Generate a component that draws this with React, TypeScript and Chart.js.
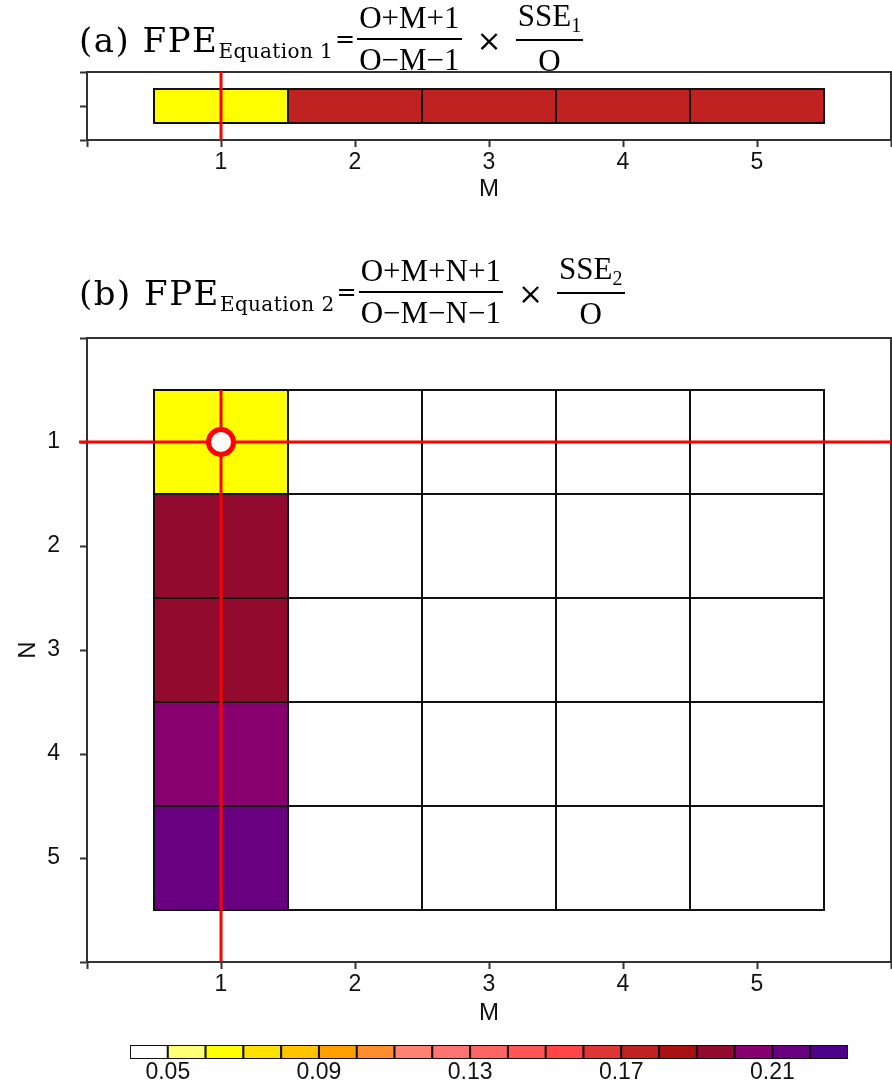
import React, { useEffect, useRef } from "react";
import { Chart, registerables } from "chart.js";

Chart.register(...registerables);

// ---------------- data ----------------
const M_VALUES = [1, 2, 3, 4, 5];
const N_VALUES = [1, 2, 3, 4, 5];
const AXIS_TICKS = [0, 1, 2, 3, 4, 5, 6];
const PANEL_A_ROW_TICKS = [0, 1, 2];
const PANEL_A_ROW = [1];

// (a) FPE of equation 1, one value per M
const FPE_EQ1 = [0.065, 0.175, 0.175, 0.175, 0.175];

// (b) FPE of equation 2, rows N = 1..5, columns M = 1..5 (null = not available)
const FPE_EQ2_N1 = [0.065, null, null, null, null];
const FPE_EQ2_N2 = [0.195, null, null, null, null];
const FPE_EQ2_N3 = [0.195, null, null, null, null];
const FPE_EQ2_N4 = [0.205, null, null, null, null];
const FPE_EQ2_N5 = [0.215, null, null, null, null];

const BEST_M = 1;
const BEST_N = 1;

// colour scale
const COLOR_LEVELS = [
  0.05, 0.06, 0.07, 0.08, 0.09, 0.1, 0.11, 0.12, 0.13, 0.14, 0.15, 0.16, 0.17,
  0.18, 0.19, 0.2, 0.21, 0.22,
];
const COLOR_FILLS = [
  "#FFFFFF", "#FFFF73", "#FFFF00", "#FFE100", "#FFC300", "#FFA000", "#FF8C2D",
  "#FF8273", "#FF7373", "#FF6464", "#FF5555", "#FF4545", "#E03535", "#C02222",
  "#A81212", "#920B2E", "#880070", "#680080", "#4E0088",
];
const COLORBAR_MIN = 0.04;
const COLORBAR_MAX = 0.23;
const COLORBAR_TICKS = [0.05, 0.09, 0.13, 0.17, 0.21];

// ---------------- styles ----------------
const AXIS_COLOR = "#333333";
const CELL_EDGE = "#111111";
const MARK_RED = "#FF0000";
const SANS = '"Liberation Sans", Arial, sans-serif';
const SERIF = '"DejaVu Serif", serif';
const SERIF_NARROW = '"Liberation Serif", serif';

function colorFor(v: number | null): string {
  if (v === null) return "#FFFFFF";
  let i = 0;
  while (i < COLOR_LEVELS.length && v >= COLOR_LEVELS[i]) i++;
  return COLOR_FILLS[i];
}

function zeroPad(s: any) {
  s.paddingLeft = 0;
  s.paddingRight = 0;
  s.paddingTop = 0;
  s.paddingBottom = 0;
}

const framePlugin = {
  id: "frameBox",
  beforeDatasetsDraw(chart: any) {
    const { ctx, chartArea } = chart;
    const { left, right, top, bottom } = chartArea;
    ctx.save();
    ctx.strokeStyle = AXIS_COLOR;
    ctx.lineWidth = 2;
    ctx.beginPath();
    ctx.moveTo(left - 1, top);
    ctx.lineTo(right, top);
    ctx.lineTo(right, bottom);
    ctx.stroke();
    ctx.restore();
  },
};

function cellDataset(rows: (number | null)[][], rowCenters: number[]) {
  const data: any[] = [];
  const colors: string[] = [];
  rows.forEach((row, r) =>
    row.forEach((v, c) => {
      data.push({ x: M_VALUES[c], y: [rowCenters[r] - 0.5, rowCenters[r] + 0.5] });
      colors.push(colorFor(v));
    })
  );
  return {
    type: "bar",
    data,
    backgroundColor: colors,
    borderColor: CELL_EDGE,
    borderWidth: 2,
    borderSkipped: false,
    inflateAmount: 1,
    barPercentage: 1,
    categoryPercentage: 1,
    grouped: false,
    order: 3,
  };
}

function lineDataset(points: { x: number; y: number }[]) {
  return {
    type: "line",
    data: points,
    borderColor: MARK_RED,
    borderWidth: 3,
    pointRadius: 0,
    tension: 0,
    fill: false,
    clip: false,
    order: 2,
  };
}

function xAxis(height: number, titlePad: number) {
  return {
    type: "linear",
    min: 0,
    max: 6,
    offset: false,
    afterBuildTicks: (s: any) => {
      s.ticks = AXIS_TICKS.map((v) => ({ value: v }));
    },
    afterFit: (s: any) => {
      s.height = height;
      zeroPad(s);
    },
    grid: {
      display: true,
      drawOnChartArea: false,
      drawTicks: true,
      tickLength: 7,
      tickWidth: 2,
      tickColor: AXIS_COLOR,
      offset: false,
    },
    border: { display: true, color: AXIS_COLOR, width: 2 },
    ticks: {
      padding: 2,
      color: "#111",
      font: { family: SANS, size: 23 },
      maxRotation: 0,
      autoSkip: false,
      callback: (v: number) => (M_VALUES.includes(v) ? String(v) : ""),
    },
    title: {
      display: true,
      text: "M",
      color: "#111",
      font: { family: SANS, size: 24 },
      padding: { top: 0, bottom: titlePad },
    },
  };
}

function yAxisBase(ticks: number[]) {
  return {
    type: "linear",
    afterBuildTicks: (s: any) => {
      s.ticks = ticks.map((v) => ({ value: v }));
    },
    afterFit: (s: any) => {
      s.width = 87;
      zeroPad(s);
    },
    grid: {
      display: true,
      drawOnChartArea: false,
      drawTicks: true,
      tickLength: 7,
      tickWidth: 2,
      tickColor: AXIS_COLOR,
      offset: false,
    },
    border: { display: true, color: AXIS_COLOR, width: 2 },
  };
}

const basePlugins = {
  legend: { display: false },
  tooltip: { enabled: false },
  title: { display: false },
};

function buildPanelA() {
  return {
    type: "bar",
    data: {
      datasets: [
        cellDataset([FPE_EQ1], PANEL_A_ROW),
        lineDataset([
          { x: BEST_M, y: PANEL_A_ROW_TICKS[0] },
          { x: BEST_M, y: PANEL_A_ROW_TICKS[PANEL_A_ROW_TICKS.length - 1] },
        ]),
      ],
    },
    options: {
      responsive: false,
      animation: false,
      events: [],
      layout: { autoPadding: false, padding: { top: 72, left: 0, right: 1, bottom: 0 } },
      plugins: basePlugins,
      scales: {
        x: xAxis(70, 6),
        y: {
          ...yAxisBase(PANEL_A_ROW_TICKS),
          min: PANEL_A_ROW_TICKS[0],
          max: PANEL_A_ROW_TICKS[PANEL_A_ROW_TICKS.length - 1],
          ticks: { callback: () => "", padding: 20 },
        },
      },
    },
    plugins: [framePlugin],
  };
}

function buildPanelB() {
  const rows = [FPE_EQ2_N1, FPE_EQ2_N2, FPE_EQ2_N3, FPE_EQ2_N4, FPE_EQ2_N5];
  const first = AXIS_TICKS[0];
  const last = AXIS_TICKS[AXIS_TICKS.length - 1];
  return {
    type: "bar",
    data: {
      datasets: [
        cellDataset(rows, N_VALUES),
        lineDataset([
          { x: first - 0.06, y: BEST_N },
          { x: last, y: BEST_N },
        ]),
        lineDataset([
          { x: BEST_M, y: N_VALUES[0] - 0.5 },
          { x: BEST_M, y: last },
        ]),
        {
          type: "scatter",
          data: [{ x: BEST_M, y: BEST_N }],
          pointRadius: 12.5,
          pointBorderWidth: 5,
          pointBackgroundColor: "#FFFFFF",
          pointBorderColor: MARK_RED,
          showLine: false,
          clip: false,
          order: 1,
        },
      ],
    },
    options: {
      responsive: false,
      animation: false,
      events: [],
      layout: { autoPadding: false, padding: { top: 18, left: 0, right: 1, bottom: 0 } },
      plugins: basePlugins,
      scales: {
        x: xAxis(78, 12),
        y: {
          ...yAxisBase(AXIS_TICKS),
          min: first,
          max: last,
          reverse: true,
          ticks: {
            padding: 20,
            color: "#111",
            font: { family: SANS, size: 23 },
            autoSkip: false,
            callback: (v: number) => (N_VALUES.includes(v) ? String(v) : ""),
          },
          title: {
            display: true,
            text: "N",
            color: "#111",
            font: { family: SANS, size: 24 },
            padding: { top: 14, bottom: 0 },
          },
        },
      },
    },
    plugins: [framePlugin],
  };
}

function buildColorBar() {
  const edges = [COLORBAR_MIN, ...COLOR_LEVELS, COLORBAR_MAX];
  const data = COLOR_FILLS.map((_, i) => ({
    x: (edges[i] + edges[i + 1]) / 2,
    y: [0, 1],
  }));
  return {
    type: "bar",
    data: {
      datasets: [
        {
          data,
          backgroundColor: COLOR_FILLS,
          borderColor: CELL_EDGE,
          borderWidth: 2,
          borderSkipped: false,
          inflateAmount: 1,
          barPercentage: 1,
          categoryPercentage: 1,
          grouped: false,
        },
      ],
    },
    options: {
      responsive: false,
      animation: false,
      events: [],
      layout: { autoPadding: false, padding: { top: 10, left: 130, right: 44, bottom: 0 } },
      plugins: basePlugins,
      scales: {
        x: {
          type: "linear",
          min: COLORBAR_MIN,
          max: COLORBAR_MAX,
          offset: false,
          afterBuildTicks: (s: any) => {
            s.ticks = COLORBAR_TICKS.map((v) => ({ value: v }));
          },
          afterFit: (s: any) => {
            s.height = 27;
            zeroPad(s);
          },
          grid: { display: false, drawTicks: false },
          border: { display: false },
          ticks: {
            padding: 0,
            color: "#111",
            font: { family: SANS, size: 23 },
            maxRotation: 0,
            autoSkip: false,
            callback: (v: number) => v.toFixed(2),
          },
        },
        y: { display: false, min: 0, max: 1 },
      },
    },
  };
}

function ChartCanvas({ top, height, build }: { top: number; height: number; build: () => any }) {
  const ref = useRef<HTMLCanvasElement>(null);
  useEffect(() => {
    const chart = new Chart(ref.current as HTMLCanvasElement, build());
    return () => chart.destroy();
  }, []);
  return (
    <canvas
      ref={ref}
      width={892}
      height={height}
      style={{ position: "absolute", left: 0, top, width: 892, height, display: "block" }}
    />
  );
}

function Fraction({ num, den }: { num: React.ReactNode; den: React.ReactNode }) {
  return (
    <span
      style={{
        display: "inline-flex",
        flexDirection: "column",
        alignItems: "stretch",
        margin: "0 2px",
        fontFamily: SERIF_NARROW,
      }}
    >
      <span style={{ fontSize: 31, lineHeight: "30px", padding: "0 2px 5px", textAlign: "center" }}>
        {num}
      </span>
      <span
        style={{
          fontSize: 31,
          lineHeight: "30px",
          padding: "5px 2px 0",
          borderTop: "2px solid #000",
          textAlign: "center",
        }}
      >
        {den}
      </span>
    </span>
  );
}

function FormulaTitle({
  top,
  label,
  index,
  num,
  den,
}: {
  top: number;
  label: string;
  index: string;
  num: string;
  den: string;
}) {
  return (
    <div
      style={{
        position: "absolute",
        left: 79,
        top,
        display: "flex",
        alignItems: "center",
        whiteSpace: "nowrap",
        fontFamily: SERIF,
        color: "#000",
      }}
    >
      <span style={{ fontSize: 34, lineHeight: "32px", letterSpacing: 1.5, position: "relative", top: 1 }}>
        ({label}) FPE
      </span>
      <span style={{ fontSize: 20, lineHeight: "20px", position: "relative", top: 12, letterSpacing: 0.4 }}>
        Equation {index}
      </span>
      <span style={{ fontSize: 24, lineHeight: "24px", position: "relative", top: 0, marginLeft: 2 }}>=</span>
      <Fraction num={num} den={den} />
      <span style={{ fontSize: 30, lineHeight: "30px", margin: "0 12px 0 13px", position: "relative", top: 2 }}>×</span>
      <Fraction
        num={
          <>
            SSE
            <span style={{ fontSize: 20, position: "relative", top: 6 }}>{index}</span>
          </>
        }
        den="O"
      />
    </div>
  );
}

export default function App() {
  return (
    <div
      style={{
        position: "absolute",
        left: 0,
        top: 0,
        width: 892,
        height: 1086,
        overflow: "hidden",
        background: "#FFFFFF",
      }}
    >
      <ChartCanvas top={0} height={210} build={buildPanelA} />
      <ChartCanvas top={320} height={720} build={buildPanelB} />
      <ChartCanvas top={1035} height={51} build={buildColorBar} />
      <FormulaTitle top={1} label="a" index="1" num="O+M+1" den="O−M−1" />
      <FormulaTitle top={254} label="b" index="2" num="O+M+N+1" den="O−M−N−1" />
    </div>
  );
}
